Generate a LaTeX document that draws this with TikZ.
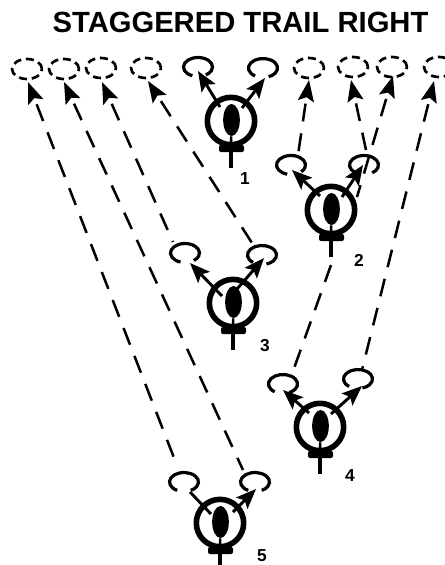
\documentclass[tikz,border=0pt]{standalone}
\usepackage{fontspec}
\setmainfont{Liberation Sans}
\usetikzlibrary{arrows.meta,shapes.geometric,calc}
\tikzset{
 route/.style={line width=1.9pt,dash pattern=on 13.5pt off 9pt,dash phase=17pt,{Stealth[length=16pt,width=12pt,inset=3pt]}-},
 ghost/.style={ellipse,draw,line width=2pt,dash pattern=on 6pt off 3.6pt,minimum width=22.5pt,minimum height=15pt,inner sep=0pt},
 recv/.style={line width=2.4pt},
 ring/.style={circle,draw,line width=4.2pt,minimum size=35.5pt,inner sep=0pt},
 oval/.style={ellipse,fill=black,minimum width=12.5pt,minimum height=24pt,inner sep=0pt},
 move/.style={line width=2.2pt,-{Stealth[length=15pt,width=12pt,inset=3pt]}},
 plain/.style={line width=2.2pt},
 num/.style={font=\bfseries\fontsize{13}{13}\selectfont,inner sep=0pt},
}
% player: id, x, y, label x, label y, number
\newcommand{\player}[6]{%
 \node[ring] (p#1) at (#2,#3) {};
 \node[oval] (o#1) at (#2+0.5,#3-1) {};
 \coordinate (st#1) at (#2,#3+47);
 \fill[rounded corners=1.5pt] (#2-12,#3+24) rectangle (#2+13,#3+31);
 \draw[line width=1.8pt] (o#1) -- (#2,#3+28);
 \draw[line width=3.6pt] (#2,#3+28) -- (st#1);
 \node[num] (n#1) at (#4,#5) {#6};
}
% receiver: name, x, y, gap centre (angle), half gap
\newcommand{\receiver}[5]{%
 \coordinate (#1) at (#2,#3);
 \draw[recv] ($(#1)+({90+#4+#5}:14.5 and 9.5)$) arc[start angle=90+#4+#5,delta angle=360-2*#5,x radius=14.5,y radius=9.5];
}
\begin{document}
\begin{tikzpicture}[x=0.75pt,y=-0.75pt]
\useasboundingbox (0,0) rectangle (445,565);
\node[font=\bfseries\fontsize{21.9}{21.9}\selectfont,inner sep=0pt] (title) at (240.5,22) {STAGGERED TRAIL RIGHT};
% targets
\node[ghost] (g1) at (27,69) {};
\node[ghost] (g2) at (64,69) {};
\node[ghost] (g3) at (101,68) {};
\node[ghost] (g4) at (146,68) {};
\node[ghost] (g5) at (309,68) {};
\node[ghost] (g6) at (353,67) {};
\node[ghost] (g7) at (392,67) {};
\node[ghost] (g8) at (439,67) {};
% players
\player{1}{231}{121}{245}{179}{1}
\player{2}{331}{210}{359}{260}{2}
\player{3}{233}{303}{265}{346}{3}
\player{4}{320}{427}{350}{476}{4}
\player{5}{220}{523}{262}{556}{5}
% receivers
\receiver{r1l}{198}{67}{-5}{28}
\receiver{r1r}{263}{68}{5}{28}
\receiver{r2l}{291}{165}{-15}{30}
\receiver{r2r}{364}{165}{-10}{25}
\receiver{r3l}{185}{253}{-10}{28}
\receiver{r3r}{262}{255}{10}{28}
\receiver{r4l}{283}{384}{5}{30}
\receiver{r4r}{358}{379}{10}{28}
\receiver{r5l}{184}{482}{0}{28}
\receiver{r5r}{255}{482}{0}{28}
% solid moves
\coordinate (a1l) at (198,71); \coordinate (a1r) at (265,78);
\coordinate (a2l) at (292,170); \coordinate (a2r) at (363,165);
\coordinate (a3l) at (190,263); \coordinate (a3r) at (264,258);
\coordinate (a4l) at (283,390); \coordinate (a4r) at (362,386);
\coordinate (a5r) at (256,489);
\draw[move] ($(p1)+(-11,-14)$) -- (a1l);
\draw[move] ($(p1)+(11,-13)$) -- (a1r);
\draw[move] ($(p2)+(-11,-14)$) -- (a2l);
\draw[move] ($(p2)+(11,-13)$) -- (a2r);
\draw[move] ($(p3)+(-11,-7)$) -- (a3l);
\draw[move] ($(p3)+(4,-14)$) -- (a3r);
\draw[move] ($(p4)+(-11,-14)$) -- (a4l);
\draw[move] ($(p4)+(11,-13)$) -- (a4r);
\draw[plain] ($(p5)+(-9,-9)$) -- (190,492);
\draw[move] ($(p5)+(13,-11)$) -- (a5r);
% routes
\coordinate (s1) at (176,463); \coordinate (t1) at (28,82);
\coordinate (s2) at (243,470); \coordinate (t2) at (64,82);
\coordinate (s3) at (173,242); \coordinate (t3) at (102,82);
\coordinate (s4) at (252,243); \coordinate (t4) at (148,81);
\coordinate (s5) at (298,155); \coordinate (t5) at (309,80);
\coordinate (s6) at (366,150); \coordinate (t6) at (351,80);
\coordinate (s7) at (292,374); \coordinate (t7) at (393,76);
\coordinate (m7a) at (357,197); \coordinate (m7b) at (331,265);
\coordinate (s8) at (362,370); \coordinate (t8) at (434,81);
\draw[route] (t1) -- (s1);
\draw[route] (t2) -- (s2);
\draw[route] (t3) -- (s3);
\draw[route] (t4) -- (s4);
\draw[route] (t5) -- (s5);
\draw[route] (t6) -- (s6);
\draw[route] (t7) -- (m7a);
\draw[line width=1.9pt,dash pattern=on 13.5pt off 9pt] (m7b) -- (s7);
\draw[route] (t8) -- (s8);
\end{tikzpicture}
\end{document}
